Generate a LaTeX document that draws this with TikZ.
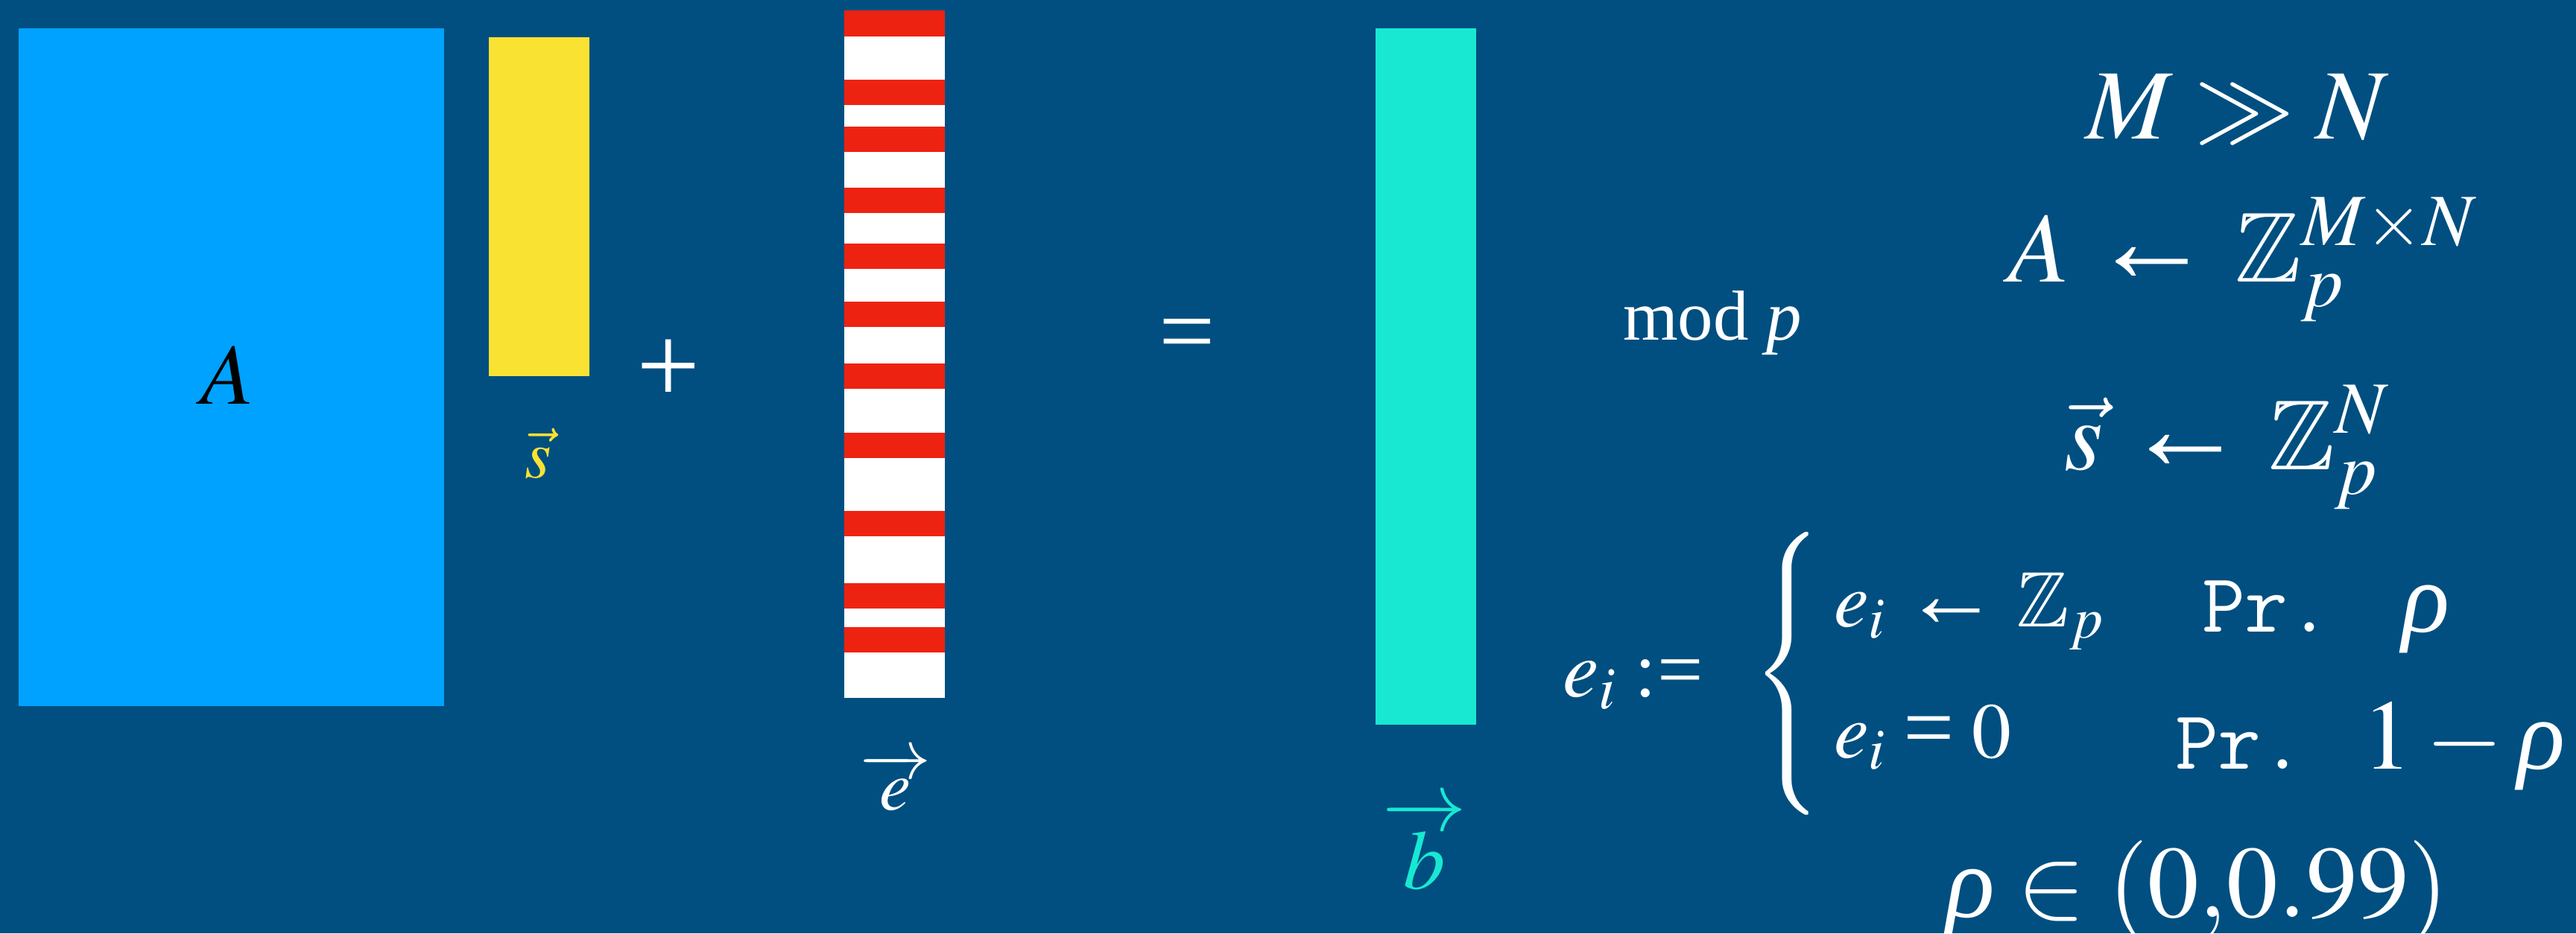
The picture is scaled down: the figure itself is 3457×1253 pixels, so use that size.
\documentclass[tikz,border=0pt]{standalone}
\usepackage{amsmath}
\usepackage{mathptmx}
\usepackage{amssymb}
\usepackage{graphicx}
\usepackage[no-math]{fontspec}
\setmainfont{Liberation Serif}
\definecolor{bgblue}{HTML}{004F80}
\definecolor{matblue}{HTML}{00A2FF}
\definecolor{vecyellow}{HTML}{FAE232}
\definecolor{vecteal}{HTML}{18E8D2}
\definecolor{errred}{HTML}{EE2211}
\newcommand\lvec[2]{\overrightarrow{\hbox to #2{\hss$#1$\hss}}}
\newcommand\prtext{{\fontsize{32}{32}\selectfont\ttfamily Pr.}}
\newcommand\trho{\mathord{\text{\itshape ρ}}}
\newcommand\teq{\mathrel{\text{=}}}
\newcommand\tla{\mathrel{\text{\scalebox{1.22}{←}}}}
\tikzset{
  txt/.style={inner sep=0pt, outer sep=0pt, text=white},
  fsize/.style={font=\fontsize{#1}{#1}\selectfont}
}
\begin{document}
\begin{tikzpicture}[x=0.01cm, y=-0.01cm]
\useasboundingbox (0,0) rectangle (3457,1253);
\fill[bgblue] (0,0) rectangle (3457,1253);
% matrix A
\fill[matblue] (25,38) rectangle (596,948);
\node[txt, text=black, fsize=33, anchor=base] (Alabel) at (305,542) {$A$};
% vector s
\fill[vecyellow] (656,50) rectangle (791,505);
\node[txt, text=vecyellow, fsize=26, anchor=base] (slabel) at (722,641) {$\vec{s}$};
% plus
\node[txt, fsize=43] (plus) at (897,499) {+};
% vector e
\fill[white] (1133,14) rectangle (1268,937);
\foreach \a/\b in {14/49,107/141,170/204,252/286,327/361,405/439,488/522,581/615,686/720,783/817,842/876}
  \fill[errred] (1133,\a) rectangle (1268,\b);
\node[txt, fsize=27, anchor=base] (elabel) at (1202,1087) {$\lvec{e}{24pt}$};
% equals
\node[txt, fsize=38] (equals) at (1593,459) {=};
% vector b
\fill[vecteal] (1846,38) rectangle (1981,973);
\node[txt, text=vecteal, fsize=32, anchor=base] (blabel) at (1912,1193) {$\lvec{b}{28pt}$};
% text on the right
\node[txt, fsize=27, anchor=base west] (modp) at (2178,456) {mod \textit{p}};
\node[txt, fsize=38, anchor=base west] (MggN) at (2799,186) {$M \gg N$};
\node[txt, fsize=38, anchor=base west] (Adist) at (2695,378) {$A \tla \mathbb{Z}_p^{M\times N}$};
\node[txt, fsize=38, anchor=base west] (sdist) at (2770,630) {$\vec{s} \tla \mathbb{Z}_p^{N}$};
\node[txt, fsize=31, anchor=base west] (eidef) at (2097,935) {$e_i :\teq$};
\node[txt, fsize=30] (brace) at (2398,905) {$\nulldelimiterspace=0pt\left\{\vrule height 47pt depth 47pt width 0pt\right.$};
\node[txt, fsize=30, anchor=base west] (caseA) at (2461,841) {$e_i \tla \mathbb{Z}_p$};
\node[txt, fsize=38, anchor=base west] (probA) at (2955,848) {\prtext\hspace{27pt}$\trho$};
\node[txt, fsize=30, anchor=base west] (caseB) at (2461,1017) {$e_i \mathrel{\text{\scalebox{1.15}{=}}} 0$};
\node[txt, fsize=38, anchor=base west] (probB) at (2919,1032) {\prtext\hspace{22pt}$1-\trho$};
\node[txt, fsize=39, anchor=base west] (rhorange) at (2611,1231) {$\trho \in (0{,}0.99)$};
\end{tikzpicture}
\end{document}
